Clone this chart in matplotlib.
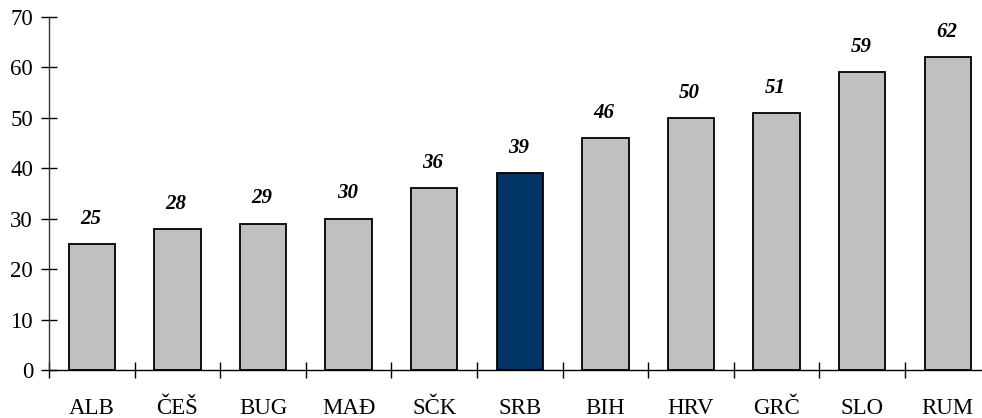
import matplotlib
matplotlib.use("Agg")
import matplotlib.pyplot as plt
import numpy as np

# Country codes and their values
countries = ["ALB", "ČEŠ", "BUG", "MAĐ", "SČK", "SRB", "BIH", "HRV", "GRČ", "SLO", "RUM"]
values = [25, 28, 29, 30, 36, 39, 46, 50, 51, 59, 62]
highlight = "SRB"

y_ticks = [0, 10, 20, 30, 40, 50, 60, 70]

plt.rcParams["font.family"] = ["Liberation Serif", "DejaVu Serif"]

fig = plt.figure(figsize=(9.82, 4.18), dpi=100)
W, H = 982, 418
left_px, right_px = 49, 990.6
bottom_px, top_px = 370, 17
ax = fig.add_axes([left_px / W, (H - bottom_px) / H,
                   (right_px - left_px) / W, (bottom_px - top_px) / H])

x = np.arange(len(countries))
colors = ["#003366" if c == highlight else "#C0C0C0" for c in countries]
bars = ax.bar(x, values, width=0.54, color=colors, edgecolor="black", linewidth=1.3, zorder=2)

for xi, v in zip(x, values):
    ax.annotate(f"{v}", xy=(xi, v), xytext=(-1, 11), textcoords="offset points",
                ha="center", va="bottom", fontsize=15, fontweight="bold",
                fontstyle="italic")

ax.set_xlim(-0.5, len(countries) - 0.5)
ax.set_ylim(0, 70)
ax.set_yticks(y_ticks)
ax.tick_params(axis="y", direction="inout", length=11, width=1, labelsize=16.5, pad=6)

# category labels at the centers, tick marks between categories
ax.set_xticks(x)
ax.set_xticklabels(countries)
ax.set_xticks(np.arange(-0.5, len(countries), 1), minor=True)
ax.tick_params(axis="x", which="major", length=0, labelsize=16.5, pad=20)
ax.tick_params(axis="x", which="minor", direction="inout", length=11, width=1)

for s in ["top", "right"]:
    ax.spines[s].set_visible(False)
ax.spines["left"].set_linewidth(1)
ax.spines["bottom"].set_linewidth(1)
ax.spines["left"].set_color("#333333")
ax.spines["bottom"].set_color("black")

fig.savefig("out.png", dpi=100)
